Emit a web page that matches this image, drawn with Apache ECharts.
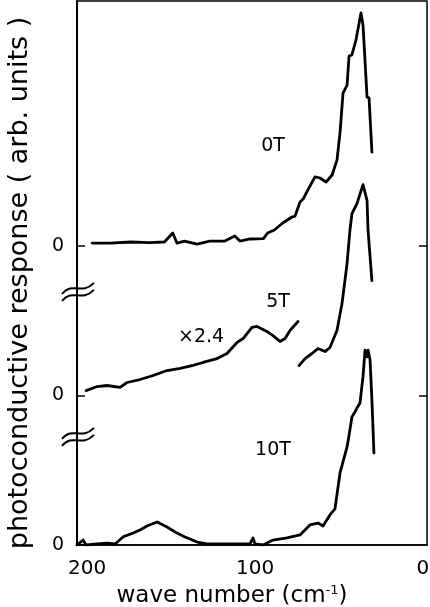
<!DOCTYPE html>
<html>
<head>
<meta charset="utf-8">
<script src="https://cdn.jsdelivr.net/npm/echarts@6/dist/echarts.min.js"></script>
<style>
  html, body { margin: 0; padding: 0; background: #fff; }
  #chart { width: 430px; height: 607px; }
</style>
</head>
<body>
<div id="chart"></div>
<script>
// Photoconductive response spectra at three magnetic fields.
// Wave numbers in cm^-1, response in arbitrary units (relative to each trace's own zero).

const zeroT_wn  = [197, 186, 174, 163, 154, 149, 146.5, 142, 134.5, 127, 118, 112, 109, 103, 95,
                   92.5, 88.5, 83.5, 78, 76.2, 73.2, 71.4, 68.5, 64.3, 61.3, 57.7, 54.1, 51.2, 49.4,
                   47.6, 45.2, 44.0, 42.3, 39.9, 36.9, 35.7, 33.3, 32.1, 30.4];
const zeroT_val = [0.02, 0.02, 0.027, 0.023, 0.027, 0.087, 0.02, 0.033, 0.013, 0.033, 0.033, 0.067, 0.033, 0.047, 0.05,
                   0.087, 0.107, 0.154, 0.194, 0.2, 0.294, 0.314, 0.375, 0.462, 0.455, 0.428, 0.475, 0.575, 0.756,
                   1.023, 1.077, 1.271, 1.278, 1.378, 1.559, 1.478, 0.997, 0.99, 0.629];

// 5 T, low-frequency part plotted magnified (x2.4)
const fiveT_x24_wn  = [200.6, 194, 188.1, 180.4, 176.2, 168.5, 160.7, 152.4, 144.6, 136.9, 131, 122.6,
                       116.7, 110.7, 107.1, 101.8, 98.8, 92.9, 89.3, 85.1, 82.1, 79.2, 74.4];
const fiveT_x24_val = [0.033, 0.06, 0.067, 0.054, 0.087, 0.107, 0.134, 0.167, 0.181, 0.201, 0.221, 0.247,
                       0.281, 0.355, 0.381, 0.455, 0.462, 0.428, 0.401, 0.361, 0.381, 0.435, 0.495];
// 5 T, main peak
const fiveT_wn  = [73.8, 70.2, 66.1, 62.5, 58.3, 55.4, 51.2, 48.2, 45.2, 43.5, 42.3, 39.3, 35.7, 33.3, 32.7, 30.4];
const fiveT_val = [0.2, 0.247, 0.281, 0.314, 0.294, 0.321, 0.435, 0.615, 0.883, 1.104, 1.217, 1.284, 1.411, 1.304, 1.104, 0.769];

const tenT_wn  = [206, 202.4, 200.6, 194, 188.1, 183.3, 178.6, 172.6, 168.5, 164.3, 158.3, 152.4, 147.6, 141.7,
                  134.5, 128.6, 120.8, 113.1, 103, 101.2, 100, 95.2, 89.3, 81, 73.2, 67.3, 62.5, 59.5, 55.4,
                  52.4, 49.4, 45.2, 43.5, 42.3, 40.5, 39.3, 37.5, 36.3, 35.7, 34.5, 33.3, 32.7, 31.5, 30.4, 29.2];
const tenT_val = [0, 0.033, 0, 0.007, 0.013, 0.007, 0.054, 0.08, 0.1, 0.127, 0.154, 0.12, 0.087, 0.054,
                  0.02, 0.007, 0.007, 0.007, 0.007, 0.047, 0.007, 0, 0.033, 0.047, 0.067, 0.134, 0.147, 0.127, 0.201,
                  0.241, 0.482, 0.656, 0.769, 0.856, 0.89, 0.916, 0.95, 1.07, 1.124, 1.304, 1.258, 1.304, 1.237, 0.97, 0.615];

// vertical offset of each trace (the "0" marks on the axis)
const baseline = { zeroT: 2, fiveT: 1, tenT: 0 };

const xTickLabels = [200, 100, 0];

// trace labels: text, wave number, level
const labelText  = ['0T', '5T', '×2.4', '10T'];
const labelWn    = [89.3, 86.3, 132.1, 89.3];
const labelLevel = [2.669, 1.625, 1.391, 0.635];

// axis-break marks between traces
const breakLevels = [1.69, 0.72];

function trace(wn, val, off) {
  return wn.map((w, i) => [w, val[i] + off]);
}

const FONT = 'DejaVu Sans';
const INK = '#000';

const lineStyle = { color: INK, width: 2.8, join: 'round', cap: 'round' };
function lineSeries(data) {
  return {
    type: 'line', data, showSymbol: false, symbol: 'none', smooth: false,
    lineStyle, silent: true, animation: false, z: 3
  };
}

const chart = echarts.init(document.getElementById('chart'), null, { renderer: 'canvas' });

chart.setOption({
  backgroundColor: '#fff',
  animation: false,
  grid: {
    left: 77, right: 3, top: 1, bottom: 62,
    show: true, borderColor: INK, borderWidth: 1.5,
    outerBoundsMode: 'none'
  },
  xAxis: {
    type: 'value', inverse: true, min: -2.4, max: 206,
    axisLine: { show: true, onZero: false, lineStyle: { color: INK, width: 1.5 } },
    axisTick: { show: false },
    splitLine: { show: false },
    axisLabel: { customValues: xTickLabels, color: INK, fontFamily: FONT, fontSize: 20, margin: 14 },
    name: '{a|wave number (cm}{s|-1}{a|)}',
    nameLocation: 'middle', nameGap: 25,
    nameTextStyle: {
      color: INK, fontFamily: FONT, fontSize: 23, padding: [0, 40, 0, 0],
      rich: {
        a: { fontFamily: FONT, fontSize: 23, color: INK },
        s: { fontFamily: FONT, fontSize: 13, color: INK, padding: [0, 0, 12, 0] }
      }
    }
  },
  yAxis: [{
    type: 'value', min: 0, max: 3.639, position: 'left',
    axisLine: { show: true, onZero: false, lineStyle: { color: INK, width: 2 } },
    axisTick: { show: true, inside: true, length: 8, customValues: [0, 1, 2], lineStyle: { color: INK, width: 1.5 } },
    splitLine: { show: false },
    axisLabel: { customValues: [0, 1, 2], formatter: () => '0', color: INK, fontFamily: FONT, fontSize: 19, margin: 13 },
    name: 'photoconductive response ( arb. units )',
    nameLocation: 'middle', nameGap: 44,
    nameTextStyle: { color: INK, fontFamily: FONT, fontSize: 27, padding: [0, 20, 0, 0] }
  }, {
    type: 'value', min: 0, max: 3.639, position: 'right',
    axisLine: { show: false, onZero: false },
    axisTick: { show: true, inside: true, length: 8, customValues: [1, 2], lineStyle: { color: INK, width: 1.5 } },
    splitLine: { show: false },
    axisLabel: { show: false }
  }],
  series: [
    lineSeries(trace(zeroT_wn, zeroT_val, baseline.zeroT)),
    lineSeries(trace(fiveT_x24_wn, fiveT_x24_val, baseline.fiveT)),
    lineSeries(trace(fiveT_wn, fiveT_val, baseline.fiveT)),
    lineSeries(trace(tenT_wn, tenT_val, baseline.tenT)),
    {
      type: 'scatter', symbolSize: 0, silent: true, animation: false,
      itemStyle: { opacity: 1 },
      data: labelText.map((t, i) => [labelWn[i], labelLevel[i], t]),
      label: {
        show: true, position: 'inside', formatter: p => p.data[2], opacity: 1,
        color: INK, fontFamily: FONT, fontSize: 19, textBorderWidth: 0
      }
    }
  ]
});

// draw the "≈" break symbols across the left axis
function drawBreaks() {
  const edge = chart.convertToPixel({ gridIndex: 0 }, [206, 0])[0];
  const elements = [];
  breakLevels.forEach(level => {
    const yc = chart.convertToPixel({ yAxisIndex: 0 }, level);
    [-3.5, 3.5].forEach(dy => {
      const y = yc + dy;
      elements.push({
        type: 'bezierCurve',
        shape: {
          x1: edge - 15, y1: y + 5,
          cpx1: edge - 4, cpy1: y - 8,
          cpx2: edge + 4, cpy2: y + 7,
          x2: edge + 17, y2: y - 6
        },
        style: { stroke: INK, lineWidth: 2, fill: null },
        z: 10, silent: true
      });
    });
  });
  chart.setOption({ graphic: elements });
}
drawBreaks();
</script>
</body>
</html>
